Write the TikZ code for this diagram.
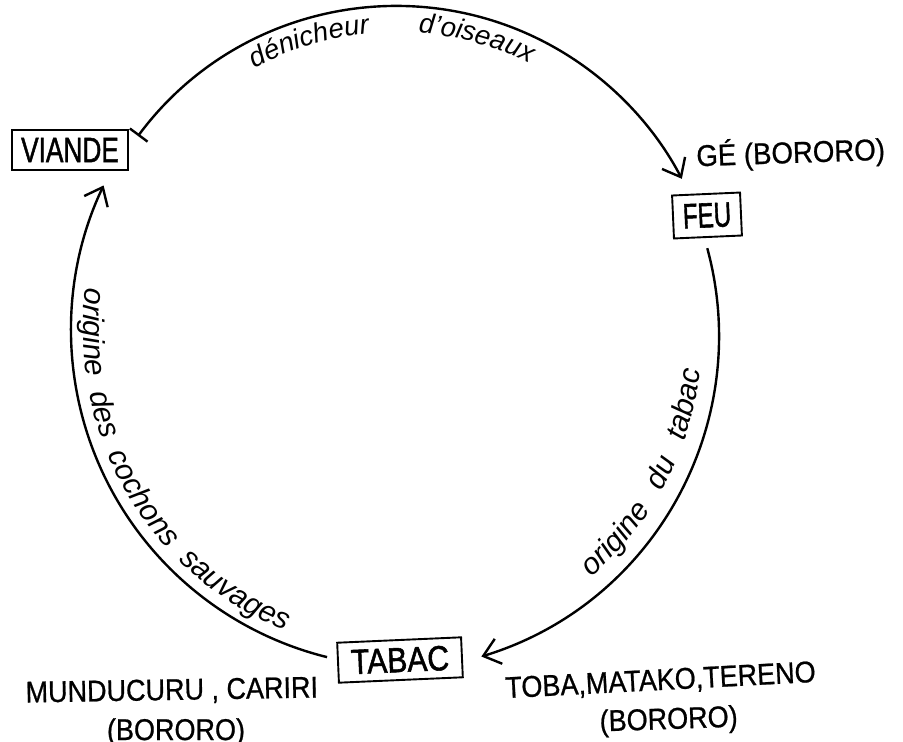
\documentclass[tikz,border=0pt]{standalone}
\usepackage{fontspec}
\usepackage{graphicx}
\usetikzlibrary{arrows.meta,decorations.text,calc}
\newfontfamily\lsans{Liberation Sans}
\newfontfamily\lsansbox[FakeBold=1.6]{Liberation Sans}
\newfontfamily\lsanstribe[FakeBold=0.8]{Liberation Sans}
\newcommand\arctopfont{\lsans\itshape\fontsize{27.5}{30}\selectfont}
\newcommand\arcsidefont{\lsans\itshape\fontsize{30}{34}\selectfont}
\tikzset{
  box/.style={draw, line width=1.9pt, inner sep=0pt, font=\lsansbox\fontsize{35}{40}\selectfont},
  tribe/.style={anchor=base, inner sep=0pt, font=\lsanstribe\fontsize{30}{34}\selectfont},
  link/.style={line width=2.4pt},
  barb/.style={-{Straight Barb[length=16pt,width=26pt]}},
  arclabel/.style={decorate, decoration={text along path, text align={fit to path stretching spaces}, text={#1}}}
}
\begin{document}
\begin{tikzpicture}[x=1pt,y=1pt]
\useasboundingbox (0,0) rectangle (903,-742);
% boxes
\node[box, minimum width=116pt, minimum height=40pt] (viande) at (70,-150) {\scalebox{0.75}[1]{VIANDE}};
\node[box, minimum width=68pt, minimum height=43pt, rotate=2.5] (feu) at (707,-215.5) {\scalebox{0.69}[1]{FEU}};
\node[box, minimum width=124pt, minimum height=40pt, rotate=2.5] (tabac) at (400,-660) {\scalebox{0.86}[1]{TABAC}};
% peoples
\node[tribe, rotate=2] (ge) at (791,-163) {\scalebox{0.92}[1]{GÉ (BORORO)}};
\node[tribe, rotate=3] (toba) at (661,-690) {\scalebox{0.9}[1]{TOBA,MATAKO,TERENO}};
\node[tribe, rotate=2] (bortoba) at (669,-729) {\scalebox{0.9}[1]{(BORORO)}};
\node[tribe, rotate=1] (mund) at (172,-700) {\scalebox{0.9}[1]{MUNDUCURU , CARIRI}};
\node[tribe] (bormund) at (176,-740) {\scalebox{0.9}[1]{(BORORO)}};
% centres of the arcs
\coordinate (Ct) at (396.5,-328);
\coordinate (Cr) at (384,-336);
\coordinate (Cl) at (408,-330);
\coordinate (aV) at ($(Ct)+(143.4:322pt)$);
\coordinate (aF) at ($(Cr)+(15.2:335pt)$);
\coordinate (aT) at ($(Cl)+(256.1:337pt)$);
% connectors
\draw[link, {Bar[width=22pt]}-{Straight Barb[length=16pt,width=26pt]}] (aV) arc[start angle=143.4, end angle=27.6, radius=322pt];
\draw[link, barb] (aF) arc[start angle=15.2, end angle=-73.1, radius=335pt];
\draw[link, barb] (aT) arc[start angle=256.1, end angle=154.6, radius=337pt];
% labels along the arcs
\path[arclabel={|\arctopfont|dénicheur d’oiseaux}] ($(Ct)+(118.6:296pt)$) arc[start angle=118.6, end angle=63.3, radius=296pt];
\path[arclabel={|\arcsidefont|origine des cochons sauvages}] ($(Cl)+(172.5:325pt)$) arc[start angle=172.5, end angle=247.7, radius=325pt];
\path[arclabel={|\arcsidefont|origine du tabac}] ($(Cr)+(-49.3:318pt)$) arc[start angle=-49.3, end angle=-6.1, radius=318pt];
\end{tikzpicture}
\end{document}
